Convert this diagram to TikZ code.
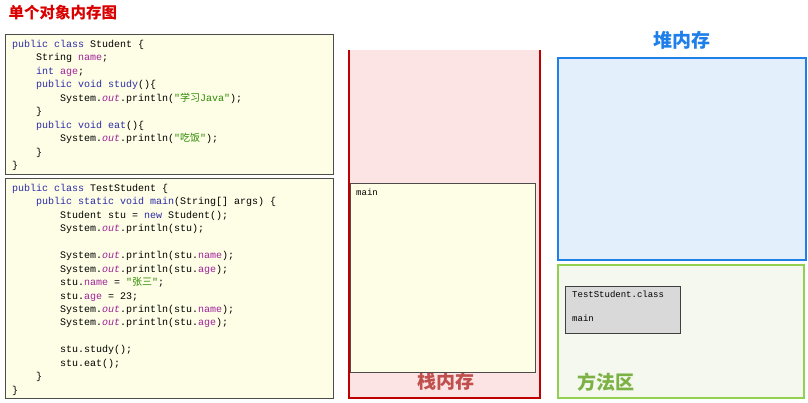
\documentclass[tikz,border=0pt]{standalone}
\usepackage{fontspec}
\setmonofont{Liberation Mono}
\newfontfamily\cjk{Noto Sans CJK SC}
\usetikzlibrary{positioning}
\definecolor{kwblue}{HTML}{2B2BA8}
\definecolor{fdpurple}{HTML}{A0209A}
\definecolor{strgreen}{HTML}{2A8A00}
\definecolor{codebg}{HTML}{FEFEE6}
\definecolor{stackred}{HTML}{C00000}
\definecolor{stacklbl}{HTML}{C0504D}
\definecolor{stackbg}{HTML}{FDE4E4}
\definecolor{heapblue}{HTML}{1F7FE8}
\definecolor{heapbg}{HTML}{E3F0FC}
\definecolor{methgreen}{HTML}{92D050}
\definecolor{methbg}{HTML}{F4F8EE}
\newcommand{\kw}[1]{\textcolor{kwblue}{#1}}
\newcommand{\fd}[1]{\textcolor{fdpurple}{#1}}
\newcommand{\ot}{\textcolor{fdpurple}{\textit{out}}}
\newcommand{\jstr}[1]{\textcolor{strgreen}{#1}}
\newcommand{\ind}{\hspace*{24pt}}
\tikzset{
  codebox/.style={draw=black!70, line width=1pt, fill=codebg},
  code/.style={anchor=north west, align=left, inner sep=0pt,
    font=\fontsize{10}{13.45}\selectfont\ttfamily},
  bigtitle/.style={font=\fontsize{19}{19}\selectfont\cjk\bfseries}
}
\begin{document}
\begin{tikzpicture}[x=1pt,y=-1pt]
\useasboundingbox (0,0) rectangle (808,402);
% title
\node[anchor=west, text=red!85!black, font=\fontsize{15.5}{15.5}\selectfont\cjk\bfseries] (title) at (5,13) {单个对象内存图};
% code boxes
\draw[codebox] (5,34) rectangle (333,174);
\node[code] (student) at (12,40) {%
\kw{public class} Student \{\\
\ind String \fd{name};\\
\ind \kw{int} \fd{age};\\
\ind \kw{public void study}()\{\\
\ind\ind System.\ot.println(\jstr{"{\cjk 学习}Java"});\\
\ind \}\\
\ind \kw{public void eat}()\{\\
\ind\ind System.\ot.println(\jstr{"{\cjk 吃饭}"});\\
\ind \}\\
\}};
\draw[codebox] (5,178) rectangle (333,398);
\node[code] (test) at (12,184) {%
\kw{public class} TestStudent \{\\
\ind \kw{public static void main}(String[] args) \{\\
\ind\ind Student stu = \kw{new} Student();\\
\ind\ind System.\ot.println(stu);\\
\mbox{}\\
\ind\ind System.\ot.println(stu.\fd{name});\\
\ind\ind System.\ot.println(stu.\fd{age});\\
\ind\ind stu.\fd{name} = \jstr{"{\cjk 张三}"};\\
\ind\ind stu.\fd{age} = 23;\\
\ind\ind System.\ot.println(stu.\fd{name});\\
\ind\ind System.\ot.println(stu.\fd{age});\\
\mbox{}\\
\ind\ind stu.study();\\
\ind\ind stu.eat();\\
\ind \}\\
\}};
% stack
\fill[stackbg] (349,50) rectangle (540,398);
\draw[stackred, line width=2pt] (349,50) -- (349,398) -- (540,398) -- (540,50);
\node[text=stacklbl, bigtitle] (stacklbl) at (446,381) {栈内存};
\draw[draw=black!70, line width=1pt, fill=codebg] (350,183) rectangle (535,372);
\node[code, font=\fontsize{9}{9}\selectfont\ttfamily] (mainframe) at (356,189) {main};
% heap
\draw[heapblue, line width=2pt, fill=heapbg] (558,58) rectangle (806,260);
\node[text=heapblue, bigtitle] (heaplbl) at (682,40) {堆内存};
% method area
\draw[methgreen, line width=2pt, fill=methbg] (558,265) rectangle (804,398);
\node[text=methgreen!85!black, bigtitle] (methlbl) at (606,382) {方法区};
\draw[draw=black!75, line width=1pt, fill=black!15] (565,286) rectangle (680,333);
\node[code, font=\fontsize{9}{24}\selectfont\ttfamily] (classbox) at (572,291) {TestStudent.class\\main};
\end{tikzpicture}
\end{document}
